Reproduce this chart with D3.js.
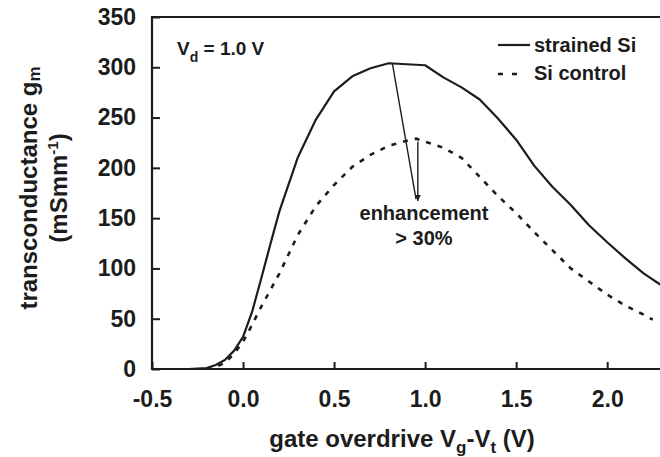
<!DOCTYPE html>
<meta charset="utf-8">
<html>
<style>
body { margin: 0; background: #fff; }
svg { display: block; }
text { font-family: "Liberation Sans", Arial, sans-serif; font-weight: bold; fill: #1c1c1c; }
.axis text { font-size: 23px; }
.axis line { stroke: #1c1c1c; stroke-width: 2px; }
.frame { stroke: #1c1c1c; stroke-width: 2.2px; fill: none; }
</style>
<svg width="660" height="457"></svg>
<script src="https://d3js.org/d3.v7.min.js"></script>
<script>
// gate overdrive (V) and transconductance (mS/mm)
var strainedX = [-0.3, -0.2, -0.15, -0.1, -0.05, 0.0, 0.05, 0.1, 0.15, 0.2, 0.3, 0.4, 0.5, 0.6, 0.7, 0.8,
                 0.9, 1.0, 1.1, 1.2, 1.3, 1.4, 1.5, 1.6, 1.7, 1.8, 1.9, 2.0, 2.1, 2.2, 2.3];
var strainedGm = [0, 1, 4, 9, 18, 32, 57, 90, 124, 157, 210, 248, 276, 291, 299, 304,
                  303, 302, 290, 280, 268, 249, 228, 202, 181, 163, 143, 126, 110, 95, 83];
var controlX = [-0.2, -0.15, -0.1, -0.05, 0.0, 0.05, 0.1, 0.2, 0.3, 0.4, 0.5, 0.6, 0.7, 0.8, 0.9, 0.95,
                1.0, 1.1, 1.2, 1.3, 1.4, 1.5, 1.6, 1.7, 1.8, 1.9, 2.0, 2.1, 2.2, 2.25];
var controlGm = [0, 2, 6, 15, 27, 44, 62, 95, 133, 162, 183, 201, 213, 222, 227, 229,
                 226, 220, 210, 191, 172, 155, 136, 118, 100, 87, 74, 63, 54, 49];
var xTicks = [-0.5, 0.0, 0.5, 1.0, 1.5, 2.0];
var yTicks = [0, 50, 100, 150, 200, 250, 300, 350];

var svg = d3.select("svg"),
    pLeft = 152, pRight = 660, pTop = 17, pBottom = 369,
    ink = "#1c1c1c";

var x = d3.scaleLinear().domain([-0.5, 2.29]).range([pLeft, pRight]);
var y = d3.scaleLinear().domain([0, 350]).range([pBottom, pTop]);

var defs = svg.append("defs");
defs.append("clipPath").attr("id", "plot")
  .append("rect").attr("x", pLeft).attr("y", pTop).attr("width", pRight - pLeft).attr("height", pBottom - pTop);

defs.append("marker")
    .attr("id", "head")
    .attr("viewBox", "0 0 10 10")
    .attr("refX", 10).attr("refY", 5)
    .attr("markerWidth", 8).attr("markerHeight", 6)
    .attr("markerUnits", "userSpaceOnUse")
    .attr("orient", "auto")
  .append("path").attr("d", "M0,0 L10,5 L0,10 Z").attr("fill", ink);

// axes, ticks point inward
svg.append("g").attr("class", "axis")
    .attr("transform", `translate(${pLeft},0)`)
    .call(d3.axisLeft(y).tickValues(yTicks).tickSizeInner(-8).tickSizeOuter(0).tickPadding(16).tickFormat(d3.format("d")))
    .call(g => g.select(".domain").remove());

svg.append("g").attr("class", "axis")
    .attr("transform", `translate(0,${pBottom})`)
    .call(d3.axisBottom(x).tickValues(xTicks).tickSizeInner(-7).tickSizeOuter(0).tickPadding(22).tickFormat(d3.format(".1f")))
    .call(g => g.select(".domain").remove());

svg.selectAll(".axis text").attr("fill", ink).text(function() { return this.textContent.replace("−", "-"); });

svg.append("path").attr("class", "frame")
    .attr("d", `M${pRight},${pTop}H${pLeft}V${pBottom}H${pRight}`);

var line = d3.line().x(d => x(d[0])).y(d => y(d[1]));

var plot = svg.append("g").attr("clip-path", "url(#plot)");

plot.append("path")
    .datum(d3.zip(strainedX, strainedGm))
    .attr("d", line)
    .attr("fill", "none").attr("stroke", ink).attr("stroke-width", 2.2).attr("stroke-linejoin", "round");

plot.append("path")
    .datum(d3.zip(controlX, controlGm))
    .attr("d", line)
    .attr("fill", "none").attr("stroke", ink).attr("stroke-width", 2.6).attr("stroke-dasharray", "5,7");

// enhancement arrows
var tip = [0.95, 167];
svg.append("line")
    .attr("x1", x(0.82)).attr("y1", y(304)).attr("x2", x(tip[0])).attr("y2", y(tip[1]) - 2)
    .attr("stroke", ink).attr("stroke-width", 1.4);
svg.append("line")
    .attr("x1", x(0.96)).attr("y1", y(226)).attr("x2", x(0.96)).attr("y2", y(tip[1]))
    .attr("stroke", ink).attr("stroke-width", 1.4).attr("marker-end", "url(#head)");

svg.append("text").attr("x", 424).attr("y", 220).attr("text-anchor", "middle").style("font-size", "20px").text("enhancement");
svg.append("text").attr("x", 424).attr("y", 245).attr("text-anchor", "middle").style("font-size", "20px").text("> 30%");

// Vd label
var vd = svg.append("text").attr("x", 177).attr("y", 55).style("font-size", "19px");
vd.append("tspan").text("V");
vd.append("tspan").attr("dy", 7).style("font-size", "14px").text("d");
vd.append("tspan").attr("dy", -7).text(" = 1.0 V");

// legend
svg.append("line").attr("x1", 498).attr("x2", 530).attr("y1", 45).attr("y2", 45)
    .attr("stroke", ink).attr("stroke-width", 2.2);
svg.append("line").attr("x1", 498).attr("x2", 522).attr("y1", 74).attr("y2", 74)
    .attr("stroke", ink).attr("stroke-width", 2.6).attr("stroke-dasharray", "5,9");
svg.append("text").attr("x", 534).attr("y", 52).style("font-size", "20px").text("strained Si");
svg.append("text").attr("x", 534).attr("y", 80).style("font-size", "20px").text("Si control");

// x title
var xt = svg.append("text").attr("x", 402).attr("y", 447).attr("text-anchor", "middle").style("font-size", "24px");
xt.append("tspan").text("gate overdrive V");
xt.append("tspan").attr("dy", 6).style("font-size", "17px").text("g");
xt.append("tspan").attr("dy", -6).text("-V");
xt.append("tspan").attr("dy", 6).style("font-size", "17px").text("t");
xt.append("tspan").attr("dy", -6).text(" (V)");

// y title, two lines
var yt1 = svg.append("text").attr("transform", "translate(37,188) rotate(-90)")
    .attr("text-anchor", "middle").style("font-size", "24px");
yt1.append("tspan").text("transconductance g");
yt1.append("tspan").attr("dy", 3).style("font-size", "17px").text("m");

var yt2 = svg.append("text").attr("transform", "translate(67,188) rotate(-90)")
    .attr("text-anchor", "middle").style("font-size", "24px");
yt2.append("tspan").text("(mSmm");
yt2.append("tspan").attr("dy", -9).style("font-size", "15px").text("-1");
yt2.append("tspan").attr("dy", 9).text(")");
</script>
</html>
